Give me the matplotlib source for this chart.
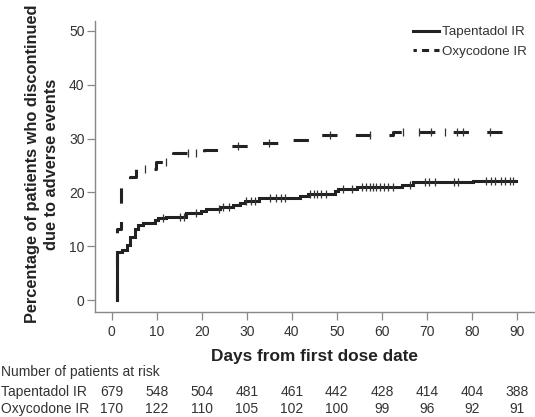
import numpy as np
import matplotlib
matplotlib.use("Agg")
import matplotlib.pyplot as plt
import matplotlib.transforms as mtransforms
from matplotlib.lines import Line2D

plt.rcParams['font.family'] = ['Liberation Sans', 'DejaVu Sans']

# ---- data ----
tap_times = [1.2, 1.2, 2.3, 3.3, 4.0, 5.1, 5.9, 7.0, 9.6, 10.4, 12.0, 16.6, 19.9, 21.0,
             24.0, 27.0, 28.5, 29.6, 32.7, 41.8, 43.6, 49.6, 50.3, 54.4, 64.4, 67.0, 80.3, 89.9]
tap_values = [0, 9.0, 9.3, 10.2, 11.8, 13.3, 13.9, 14.4, 14.9, 15.2, 15.5, 16.1, 16.6, 17.0,
              17.3, 17.6, 18.0, 18.5, 18.9, 19.3, 19.8, 20.3, 20.6, 21.1, 21.4, 21.9, 22.1, 22.1]
tap_censor = [11.4, 15.1, 16.1, 18.8, 23.8, 24.7, 26.0, 29.9, 30.9, 31.8, 35.1, 36.6, 37.6, 38.4,
              44.0, 44.9, 45.6, 46.6, 47.6, 51.4, 53.3, 55.5, 56.4, 57.3, 58.1, 58.8, 59.7,
              60.5, 61.4, 62.5, 66.2, 69.6, 70.5, 71.8, 76.0, 77.0, 83.1, 84.2, 85.1, 86.4,
              87.3, 88.4, 89.2]

oxy_times = [1.1, 1.1, 2.1, 4.0, 5.5, 9.9, 13.6, 20.5, 26.5, 31.0, 37.5, 45.6, 62.5, 86.6]
oxy_values = [0, 13.2, 21.4, 22.8, 24.3, 25.6, 27.3, 27.9, 28.6, 29.1, 29.7, 30.7, 31.3, 31.3]
oxy_censor = [7.3, 12.1, 16.9, 18.8, 28.0, 35.0, 48.5, 57.3, 64.7, 68.2, 71.0, 74.0,
              76.6, 78.0, 84.0]

risk_days = [0, 10, 20, 30, 40, 50, 60, 70, 80, 90]
risk_tap = [679, 548, 504, 481, 461, 442, 428, 414, 404, 388]
risk_oxy = [170, 122, 110, 105, 102, 100, 99, 96, 92, 91]

series_names = ["Tapentadol IR", "Oxycodone IR"]

# ---- figure ----
fig = plt.figure(figsize=(5.35, 4.17), dpi=100)
ax = fig.add_axes([95/535, 1 - 312/417, (534 - 95)/535, (312 - 20.7)/417])

line_col = '#222222'
ax.step(tap_times, tap_values, where='post', color=line_col, lw=2.2,
        solid_joinstyle='miter')
ax.step(oxy_times, oxy_values, where='post', color=line_col, lw=2.2,
        ls=(0, (5, 6)))


def step_val(times, vals, t):
    idx = np.searchsorted(times, t, side='right') - 1
    return np.asarray(vals)[idx]


ax.plot(tap_censor, step_val(tap_times, tap_values, tap_censor), ls='none',
        marker='|', ms=6, mew=0.9, color='#333333')
ax.plot(oxy_censor, step_val(oxy_times, oxy_values, oxy_censor), ls='none',
        marker='|', ms=6, mew=0.9, color='#333333')

ax.set_xlim(-3.7, 93.8)
ax.set_ylim(-2.2, 51.9)
ax.set_xticks(risk_days)
ax.set_yticks([0, 10, 20, 30, 40, 50])

for s in ['top', 'right']:
    ax.spines[s].set_visible(False)
for s in ['left', 'bottom']:
    ax.spines[s].set_color('#888888')
    ax.spines[s].set_linewidth(1.0)

ax.tick_params(axis='both', direction='out', length=6, width=0.9, color='#888888',
               labelcolor='#333333', labelsize=10)
ax.tick_params(axis='x', pad=3.5)
ax.tick_params(axis='y', pad=1.5)

ax.set_xlabel("Days from first dose date", fontsize=12.4, fontweight='bold', color='#222222')
ax.xaxis.set_label_coords(0.5, -0.128)
ax.set_ylabel("Percentage of patients who discontinued\ndue to adverse events",
              fontsize=11.8, fontweight='bold', color='#222222', va='center', ha='center',
              linespacing=1.35)
ax.yaxis.set_label_coords(-(95 - 42) / (534 - 95), (312 - 164) / 291.3)

handles = [Line2D([], [], color=line_col, lw=2.2),
           Line2D([], [], color=line_col, lw=2.2, ls=(1.2, (2.3, 1.7)))]
leg = ax.legend(handles, series_names, loc='upper left',
                bbox_to_anchor=(413/535, 1 - 26/417),
                bbox_transform=fig.transFigure, frameon=False, fontsize=9.6,
                handlelength=1.95, handletextpad=0.22, borderpad=0, borderaxespad=0,
                labelspacing=0.55)
for t in leg.get_texts():
    t.set_color('#333333')

# ---- risk table ----
trans = mtransforms.blended_transform_factory(ax.transData, fig.transFigure)
fig.text(1/535, 1 - 372/417, "Number of patients at risk", fontsize=10,
         color='#333333', ha='left', va='center')
fig.text(1/535, 1 - 391.7/417, series_names[0], fontsize=10, color='#333333',
         ha='left', va='center')
fig.text(1/535, 1 - 409/417, series_names[1], fontsize=10, color='#333333',
         ha='left', va='center')
for d, a, b in zip(risk_days, risk_tap, risk_oxy):
    ax.text(d, 1 - 391.7/417, str(a), transform=trans, fontsize=10, color='#333333',
            ha='center', va='center', clip_on=False)
    ax.text(d, 1 - 409/417, str(b), transform=trans, fontsize=10, color='#333333',
            ha='center', va='center', clip_on=False)

fig.savefig("out.png", dpi=100)
